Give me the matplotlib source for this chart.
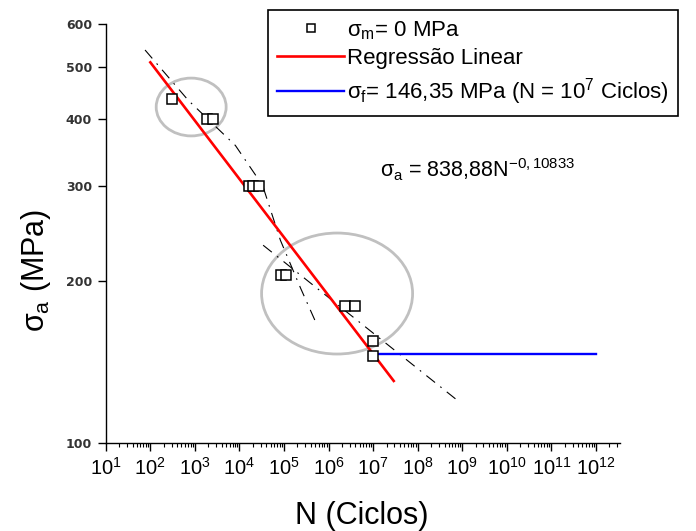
import numpy as np
import matplotlib
matplotlib.use("Agg")
import matplotlib.pyplot as plt
from matplotlib.patches import Ellipse
from matplotlib.ticker import FixedLocator, FixedFormatter, LogLocator, NullFormatter, NullLocator

plt.rcParams['font.family'] = ['Liberation Sans', 'DejaVu Sans']
plt.rcParams['mathtext.fontset'] = 'custom'
plt.rcParams['mathtext.rm'] = 'Liberation Sans'
plt.rcParams['mathtext.it'] = 'Liberation Sans'
plt.rcParams['mathtext.bf'] = 'Liberation Sans:bold'

# ---- data ----
n_cycles = [300, 1850, 2500, 16000, 20000, 27000, 85000, 112000, 2.3e6, 3.9e6, 1.0e7, 1.0e7]
sigma_a = [435, 400, 400, 300, 300, 300, 205, 205, 180, 180, 155, 145]

reg_A = 838.88
reg_b = -0.10833
reg_n_range = [100, 2.9e7]

fatigue_limit = 146.35
limit_n_range = [1e7, 1e12]

band1_n = [76, 710, 8100, 33000, 83000, 235000, 510000]
band1_s = [537, 433, 357, 301, 238, 194, 168]
band2_n = [34000, 8.1e8]
band2_s = [233, 119.7]

y_ticks = [100, 200, 300, 400, 500, 600]
x_ticks = [10.0 ** k for k in range(1, 13)]

fig = plt.figure(figsize=(6.96, 5.31), dpi=100)
ax = fig.add_axes([0.152, 0.1657, 0.739, 0.789])
ax.set_xscale('log')
ax.set_yscale('log')
ax.set_xlim(10, 3.5e12)
ax.set_ylim(100, 600)

# regression line
reg_n = np.logspace(np.log10(reg_n_range[0]), np.log10(reg_n_range[1]), 50)
ax.plot(reg_n, reg_A * reg_n ** reg_b, color='#ff0000', lw=1.9, zorder=3,
        label='Regressão Linear')
# fatigue limit
ax.plot(limit_n_range, [fatigue_limit, fatigue_limit], color='#0000ff', lw=1.7, zorder=3,
        label=r'$\sigma_{\mathrm{f}}$= 146,35 MPa (N = 10$^{7}$ Ciclos)')
# dash-dot lines
ds = (0, (10, 6, 1.5, 6))
ax.plot(band1_n, band1_s, color='black', lw=0.8, linestyle=ds, zorder=2)
ax.plot(band2_n, band2_s, color='black', lw=0.8, linestyle=ds, zorder=2)
# data points
ax.plot(n_cycles, sigma_a, linestyle='none', marker='s', markersize=6.5,
        markerfacecolor='white', markeredgecolor='black', markeredgewidth=1.1, zorder=4,
        label=r'$\sigma_{\mathrm{m}}$= 0 MPa')

# gray ellipses (axes fraction)
ax.add_patch(Ellipse((0.166, 0.802), 0.136, 0.138, transform=ax.transAxes,
                     fill=False, edgecolor='#c0c0c0', lw=2.0, zorder=1))
ax.add_patch(Ellipse((0.4497, 0.3568), 0.2936, 0.2888, transform=ax.transAxes,
                     fill=False, edgecolor='#c0c0c0', lw=2.0, zorder=1))

# spines / ticks
for s in ['top', 'right']:
    ax.spines[s].set_visible(False)
for s in ['left', 'bottom']:
    ax.spines[s].set_linewidth(1.0)

ax.yaxis.set_major_locator(FixedLocator(y_ticks))
ax.yaxis.set_major_formatter(FixedFormatter([str(v) for v in y_ticks]))
ax.yaxis.set_minor_locator(NullLocator())
ax.yaxis.set_minor_formatter(NullFormatter())
ax.xaxis.set_major_locator(FixedLocator(x_ticks))
ax.xaxis.set_minor_locator(LogLocator(base=10, subs=np.arange(2, 10), numticks=50))
ax.xaxis.set_minor_formatter(NullFormatter())

ax.tick_params(axis='y', which='major', direction='out', length=6, width=1.0, pad=4,
               labelsize=9)
for lab in ax.get_yticklabels():
    lab.set_fontfamily('DejaVu Sans')
    lab.set_fontweight('bold')
    lab.set_color('#333333')
ax.tick_params(axis='x', which='major', direction='out', length=6, width=1.0, pad=4,
               labelsize=14.5)
ax.tick_params(axis='x', which='minor', direction='out', length=3, width=0.8)

# labels
fig.text(0.52, 0.028, 'N (Ciclos)', fontsize=22, ha='center', va='center')
fig.text(0.052, 0.49, r'$\sigma_{\mathrm{a}}$ (MPa)', fontsize=22, ha='center', va='center',
         rotation=90)

ax.text(0.533, 0.652, r'$\sigma_{\mathrm{a}}$ = 838,88N$^{-0,10833}$', transform=ax.transAxes,
        fontsize=15.5, ha='left', va='center')

handles, labels = ax.get_legend_handles_labels()
order = [2, 0, 1]
leg = fig.legend([handles[i] for i in order], [labels[i] for i in order],
                 loc='upper right', bbox_to_anchor=(0.974, 0.981),
                 fontsize=16, frameon=True, fancybox=False, framealpha=1,
                 edgecolor='black', handlelength=3.0, handletextpad=0.15,
                 labelspacing=0.3, borderpad=0.4, borderaxespad=0, markerscale=0.8)
leg.get_frame().set_linewidth(1.2)

fig.savefig('out.png', dpi=100)
